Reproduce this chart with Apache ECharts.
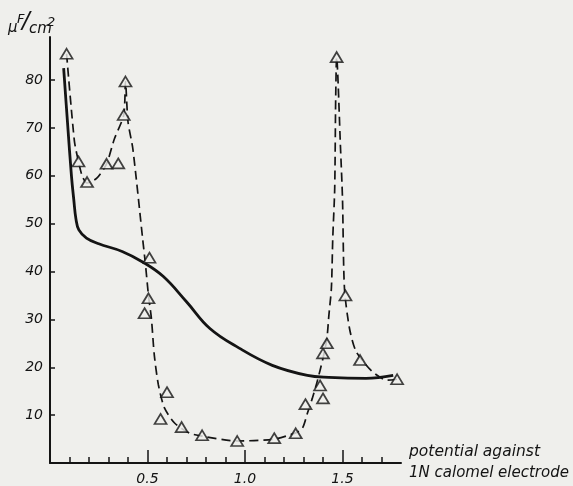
<!DOCTYPE html>
<html><head><meta charset="utf-8">
<script src="https://cdn.jsdelivr.net/npm/echarts@6/dist/echarts.min.js"></script>
<style>html,body{margin:0;padding:0;background:#efefec;}#c{width:573px;height:486px;}</style>
</head><body><div id="c"></div>
<script>
// Theoretical capacity curve (solid)
const solidX = [0.07, 0.09, 0.11, 0.122, 0.133, 0.148, 0.187, 0.25, 0.37, 0.475, 0.58, 0.70, 0.82, 0.97, 1.14, 1.32, 1.43, 1.62, 1.76];
const solidY = [82.5, 71, 60, 55, 51, 48.7, 47, 45.8, 44.2, 42, 39, 33.7, 28.1, 24, 20.4, 18.3, 17.9, 17.7, 18.3];
// Experimental curve (dashed)
const dashX = [0.085, 0.125, 0.146, 0.165, 0.19, 0.24, 0.29, 0.33, 0.378, 0.387, 0.40, 0.425, 0.475, 0.49, 0.505, 0.52, 0.535, 0.556, 0.587, 0.64, 0.715, 0.78, 0.96, 1.15, 1.26, 1.295, 1.32, 1.345, 1.37, 1.40, 1.42, 1.43, 1.443, 1.45, 1.46, 1.465, 1.47, 1.49, 1.50, 1.51, 1.536, 1.57, 1.65, 1.73, 1.78];
const dashY = [85.5, 67.3, 63, 60, 58.5, 59.5, 62.5, 67.7, 72.7, 79.7, 71.3, 65.6, 46.9, 41.3, 35, 30.2, 22.5, 16.3, 11.5, 8.3, 6.25, 5.6, 4.6, 5.0, 6.3, 7.3, 10.4, 13.5, 17, 21.9, 26, 30.8, 36.5, 46.9, 57.3, 76, 84.8, 65.6, 55.2, 36.5, 28.1, 23.3, 19.2, 17.3, 17.5];
// Measured points (triangles)
const triX = [0.085, 0.146, 0.19, 0.29, 0.35, 0.378, 0.387, 0.51, 0.505, 0.485, 0.60, 0.567, 0.675, 0.78, 0.96, 1.15, 1.26, 1.31, 1.40, 1.385, 1.40, 1.42, 1.47, 1.515, 1.59, 1.78];
const triY = [85.5, 63, 58.7, 62.5, 62.6, 72.7, 79.7, 42.9, 34.4, 31.3, 14.8, 9.2, 7.5, 5.8, 4.6, 5.2, 6.2, 12.3, 13.5, 16.2, 22.9, 25, 84.8, 35, 21.5, 17.5];
// Ticks
const yTicks = [10, 20, 30, 40, 50, 60, 70, 80];
const xMajor = [0.5, 1.0, 1.5];
const xMinor = [0.1, 0.2, 0.3, 0.4, 0.6, 0.7, 0.8, 0.9, 1.1, 1.2, 1.3, 1.4, 1.6, 1.7];
const yUnit = ['μ', 'F', '/', 'cm', '2'];
const xTitle = ['potential against', '1N calomel electrode'];

const ink = '#141414';
const bg = '#efefec';
const font = 'DejaVu Sans';
const zip = (a, b) => a.map((v, i) => [v, b[i]]);

const chart = echarts.init(document.getElementById('c'), null, {renderer: 'canvas'});
chart.setOption({
  backgroundColor: bg,
  animation: false,
  grid: {left: 50, top: 37, width: 351, height: 427},
  xAxis: [{
    type: 'value', min: 0, max: 1.8,
    axisLine: {lineStyle: {color: ink, width: 2}},
    splitLine: {show: false},
    axisTick: {inside: true, length: 13, lineStyle: {color: ink, width: 1.5}, customValues: xMajor},
    axisLabel: {customValues: xMajor, color: ink, fontFamily: font, fontStyle: 'italic', fontSize: 14, margin: 9,
      formatter: v => v.toFixed(1)}
  }, {
    type: 'value', min: 0, max: 1.8, gridIndex: 0, position: 'bottom',
    axisLine: {show: false}, splitLine: {show: false}, axisLabel: {show: false},
    axisTick: {inside: true, length: 6, lineStyle: {color: ink, width: 1.5}, customValues: xMinor}
  }],
  yAxis: {
    type: 'value', min: 0, max: 89,
    axisLine: {show: true, lineStyle: {color: ink, width: 2}},
    splitLine: {show: false},
    axisTick: {show: true, inside: true, length: 5, lineStyle: {color: ink, width: 1.5}, customValues: yTicks},
    axisLabel: {customValues: yTicks, color: ink, fontFamily: font, fontStyle: 'italic', fontSize: 14, margin: 7}
  },
  series: [{
    type: 'line', data: zip(solidX, solidY), smooth: 0.4, showSymbol: false,
    lineStyle: {color: ink, width: 2.8}, z: 3
  }, {
    type: 'line', data: zip(dashX, dashY), smooth: 0.25, showSymbol: false,
    lineStyle: {color: ink, width: 1.7, type: [9, 5]}, z: 2
  }, {
    type: 'scatter', data: zip(triX, triY), symbol: 'triangle', symbolSize: [12, 10],
    itemStyle: {color: bg, borderColor: ink, borderWidth: 1.7}, z: 4
  }],
  graphic: [
    {type: 'text', left: 8, top: 21, style: {text: yUnit[0], font: 'italic 15px "DejaVu Sans"', fill: ink}},
    {type: 'text', left: 17, top: 13, style: {text: yUnit[1], font: 'italic 13px "DejaVu Sans"', fill: ink}},
    {type: 'text', left: 22, top: 11, style: {text: yUnit[2], font: 'italic 23px "DejaVu Sans"', fill: ink}},
    {type: 'text', left: 29, top: 22, style: {text: yUnit[3], font: 'italic 15px "DejaVu Sans"', fill: ink}},
    {type: 'text', left: 47, top: 16, style: {text: yUnit[4], font: 'italic 13px "DejaVu Sans"', fill: ink}},
    {type: 'text', left: 409, top: 444, style: {text: xTitle[0], font: 'italic 15.5px "DejaVu Sans"', fill: ink}},
    {type: 'text', left: 409, top: 466, style: {text: xTitle[1], font: 'italic 15px "DejaVu Sans"', fill: ink}}
  ]
});
</script></body></html>
